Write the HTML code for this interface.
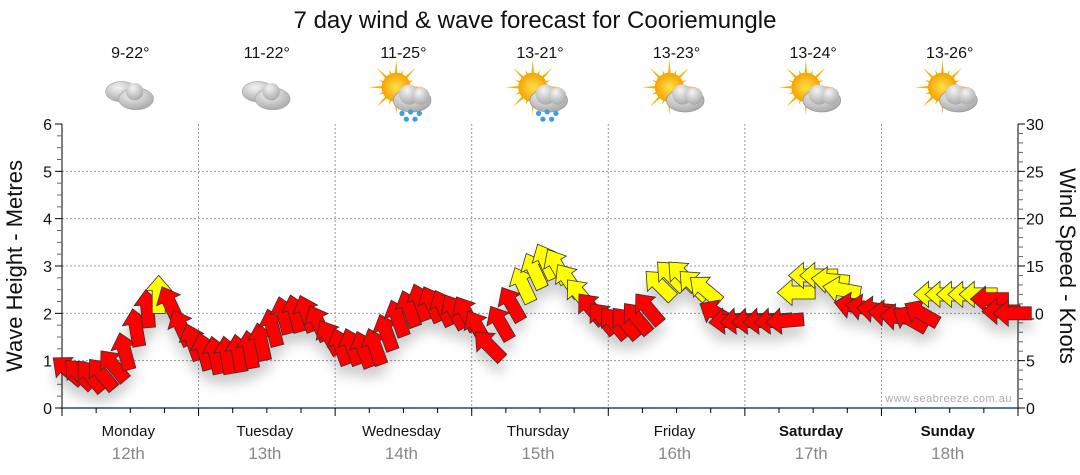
<!DOCTYPE html>
<html><head><meta charset="utf-8"><style>
body{margin:0;background:#fff;width:1080px;height:475px;overflow:hidden;font-family:"Liberation Sans",sans-serif}
svg{display:block}
</style></head><body>
<svg id="c" width="1080" height="475">
<defs>
<filter id="sh" x="-50%" y="-50%" width="200%" height="200%"><feDropShadow dx="0" dy="10" stdDeviation="6" flood-color="#000" flood-opacity="0.2"/></filter>
<radialGradient id="cg" cx="0.4" cy="0.3" r="0.8"><stop offset="0" stop-color="#f4f4f4"/><stop offset="1" stop-color="#a0a0a0"/></radialGradient>
<radialGradient id="sg" cx="0.5" cy="0.5" r="0.5"><stop offset="0" stop-color="#ffe14a"/><stop offset="1" stop-color="#f5a300"/></radialGradient>
</defs>
</svg>
<script>
const days=["Monday","Tuesday","Wednesday","Thursday","Friday","Saturday","Sunday"];
const dates=["12th","13th","14th","15th","16th","17th","18th"];
const temps=["9-22°","11-22°","11-25°","13-21°","13-23°","13-24°","13-26°"];
const icons=["cloud","cloud","sunrain","sunrain","suncloud","suncloud","suncloud"];
const waveTicks=[0,1,2,3,4,5,6];
const windTicks=[0,5,10,15,20,25,30];
const windHours=[1,3,5,7,9,11,13,15,17,19,21,23,25,27,29,31,33,35,37,39,41,43,45,47,49,51,53,55,57,59,61,63,65,67,69,71,73,75,77,79,81,83,85,87,89,91,93,95,97,99,101,103,105,107,109,111,113,115,117,119,121,123,125,127,129,131,133,135,137,139,141,143,145,147,149,151,153,155,157,159,161,163,165,167];
const windSpeed=[4,3.6,3.4,3.6,4.5,6,8.5,10.5,12,11,8.5,7,
6,5.6,5.6,5.8,6.2,7,8.5,9.8,10,10,9,7.5,
6.5,6.5,6.2,6.5,8,9.5,10.5,11.2,11,10.6,10.2,10,
8.5,6.6,9,11,13,14.5,15.5,15,13.5,12,10.5,9.5,
9,9,9.5,10.5,13,14,14,13,12.5,10,9.2,9.2,
9.2,9.2,9.2,9.2,12.2,14,14,13.5,12.5,10.8,10.6,10.4,
10,9.6,9.4,10,12,12,12,12,12,11.5,10.2,10];
const windDir=[-50,-45,-40,-40,-40,-15,-10,-5,0,-25,-25,-20,
-15,-12,-10,-10,-10,-12,-15,-15,-15,-20,-25,-30,
-20,-20,-20,-20,-20,-20,-20,-20,-25,-25,-30,-30,
-30,-45,-30,-30,-25,-25,-25,-30,-35,-40,-40,-40,
-40,-40,-40,-40,-45,-45,-45,-45,-50,-60,-95,-95,
-95,-95,-95,-95,-90,-90,-90,-85,-80,-80,-80,-85,
-85,-85,-60,-60,-90,-90,-90,-90,-90,-90,-90,-90];

const svg=document.getElementById('c');const NS="http://www.w3.org/2000/svg";
function mk(t,a,p){const e=document.createElementNS(NS,t);for(const k in a)e.setAttribute(k,a[k]);(p||svg).appendChild(e);return e;}
const L=62,R=1018,T=124,B=408;
const xH=h=>L+(R-L)*h/168;
const yW=m=>B-(B-T)*m/6;
const yK=k=>B-(B-T)*k/30;

let t=mk('text',{x:535,y:28,'text-anchor':'middle','font-size':24,fill:'#111'});t.textContent='7 day wind & wave forecast for Cooriemungle';


const g=mk('g',{});
waveTicks.forEach(v=>{if(v>0&&v<6)mk('line',{x1:L,x2:R,y1:yW(v),y2:yW(v),stroke:'#999','stroke-dasharray':'2,2'},g);});
for(let d=1;d<7;d++)mk('line',{x1:xH(d*24),x2:xH(d*24),y1:T,y2:B,stroke:'#999','stroke-dasharray':'2,2'},g);

const la=mk('g',{});
mk('line',{x1:L,x2:L,y1:T,y2:B+8,stroke:'#000'},la);
for(let i=0;i<=24;i++){const y=yW(i/4);mk('line',{x1:L-(i%4?5:7),x2:L,y1:y,y2:y,stroke:i%4?'#666':'#000'},la);}
waveTicks.forEach(v=>{const e=mk('text',{x:L-10,y:yW(v)+6,'text-anchor':'end','font-size':16,fill:'#111'},la);e.textContent=v;});
t=mk('text',{transform:`translate(22,266) rotate(-90)`,'text-anchor':'middle','font-size':22,fill:'#111'});t.textContent='Wave Height - Metres';

const ra=mk('g',{});
mk('line',{x1:R,x2:R,y1:T,y2:B,stroke:'#000'},ra);
for(let i=0;i<=30;i++){const y=yK(i);mk('line',{x1:R,x2:R+(i%5?5:7),y1:y,y2:y,stroke:i%5?'#666':'#000'},ra);}
windTicks.forEach(v=>{const e=mk('text',{x:R+8,y:yK(v)+6,'font-size':16,fill:'#111'},ra);e.textContent=v;});
t=mk('text',{transform:`translate(1060,266) rotate(90)`,'text-anchor':'middle','font-size':22,fill:'#111'});t.textContent='Wind Speed - Knots';

const xa=mk('g',{});
mk('line',{x1:L,x2:R,y1:B,y2:B,stroke:'#1a4f7a','stroke-width':1.5},xa);
for(let i=0;i<=28;i++){const x=xH(i*6);mk('line',{x1:x,x2:x,y1:B,y2:B+(i%4?5:8),stroke:'#000'},xa);}
days.forEach((d,i)=>{const cx=xH(i*24+12);
 const e=mk('text',{x:cx-2,y:436,'text-anchor':'middle','font-size':15,fill:'#111','font-weight':i>=5?'bold':'normal'},xa);e.textContent=d;
 
 const f=mk('text',{x:cx-2,y:459,'text-anchor':'middle','font-size':17,fill:'#888'},xa);f.textContent=dates[i];
 
 const tt=mk('text',{x:cx,y:58,'text-anchor':'middle','font-size':16,fill:'#111'});tt.textContent=temps[i];
 
 const ic=mk('g',{transform:`translate(${cx},96) scale(1.45)`});
 if(icons[i]!=='cloud'){
   const sx=-5,sy=-6;
   for(let r=0;r<16;r++){const a=r*Math.PI/8,l=r%2?13:19;mk('polygon',{points:`${sx+Math.cos(a-0.13)*8},${sy+Math.sin(a-0.13)*8} ${sx+Math.cos(a)*l},${sy+Math.sin(a)*l} ${sx+Math.cos(a+0.13)*8},${sy+Math.sin(a+0.13)*8}`,fill:'#f5b000'},ic);}
   mk('circle',{cx:sx,cy:sy,r:10,fill:'url(#sg)'},ic);
   mk('ellipse',{cx:6,cy:3,rx:13,ry:8,fill:'url(#cg)',stroke:'#999','stroke-width':0.5},ic);
   mk('circle',{cx:4,cy:-1,r:7,fill:'url(#cg)'},ic);mk('circle',{cx:12,cy:0,r:6,fill:'url(#cg)'},ic);
   if(icons[i]==='sunrain'){[[-1,12],[5,11],[11,12],[2,16],[8,16]].forEach(p=>mk('circle',{cx:p[0],cy:p[1],r:1.8,fill:'#3aa0e0'},ic));}
 }else{
   mk('ellipse',{cx:-6,cy:-3,rx:11,ry:7,fill:'url(#cg)',stroke:'#aaa','stroke-width':0.5},ic);
   mk('ellipse',{cx:4,cy:2,rx:12,ry:7.5,fill:'url(#cg)',stroke:'#aaa','stroke-width':0.5},ic);
   mk('circle',{cx:3,cy:-3,r:6,fill:'url(#cg)'},ic);
 }
});
t=mk('text',{x:1012,y:402,'text-anchor':'end','font-size':11,fill:'#aab',style:'letter-spacing:0.5px'});t.textContent='www.seabreeze.com.au';


const ag=mk('g',{filter:'url(#sh)'});
const shape="0,-19 13,-4 6.5,-4 6.5,19 -6.5,19 -6.5,-4 -13,-4";
windHours.forEach((h,i)=>{
 const sp=windSpeed[i];const col=sp>=11.8?'#ffff00':'#ff0000';
 const p=mk('polygon',{points:shape,fill:col,stroke:'#333','stroke-width':0.8,transform:`translate(${xH(h).toFixed(1)},${yK(sp).toFixed(1)}) rotate(${windDir[i]})`},ag);
 
 
});
</script>
</body></html>
